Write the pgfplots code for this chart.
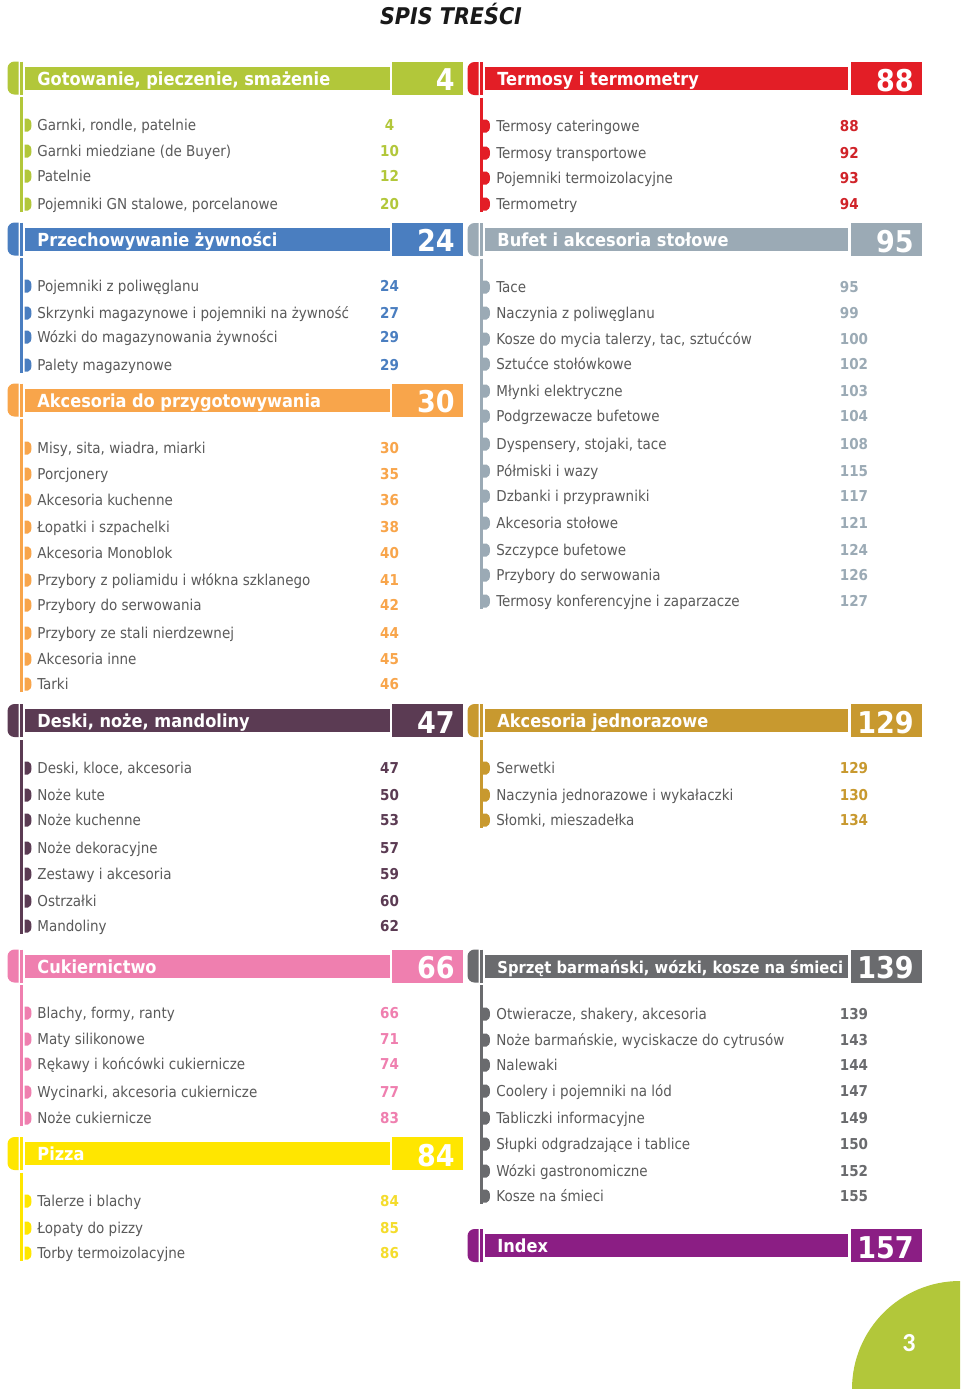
\documentclass[border=0pt]{standalone}
\usepackage{fontspec}
\setmainfont{DejaVu Sans Condensed}
\newfontfamily\calibri{Carlito}
\usepackage{pgfplots}
\pgfplotsset{compat=1.18}

\definecolor{cGreen}{HTML}{B2C73A}
\definecolor{cRed}{HTML}{E31E26}
\definecolor{cRedN}{HTML}{D02329}
\definecolor{cBlue}{HTML}{4A7EC0}
\definecolor{cOrange}{HTML}{F8A54B}
\definecolor{cSlate}{HTML}{9BAAB5}
\definecolor{cPlum}{HTML}{5B3B53}
\definecolor{cGold}{HTML}{C8992F}
\definecolor{cPink}{HTML}{EF7FAF}
\definecolor{cYellow}{HTML}{FFE600}
\definecolor{cYellowN}{HTML}{F4DC2C}
\definecolor{cDark}{HTML}{6A6B6E}
\definecolor{cPurple}{HTML}{8B1E84}
\definecolor{txt}{HTML}{5A5A5A}

\pgfdeclareplotmark{dee}{%
  \pgfpathmoveto{\pgfpoint{-1.75pt}{3.25pt}}%
  \pgfpathlineto{\pgfpoint{0pt}{3.25pt}}%
  \pgfpatharc{90}{-90}{1.75pt and 3.25pt}%
  \pgfpathlineto{\pgfpoint{-1.75pt}{-3.25pt}}%
  \pgfpathclose
  \pgfusepathqfill}

\tikzset{
  itm/.style={anchor=west, inner sep=0pt, text height=5.5pt, text depth=0pt,
    font=\fontsize{7.5}{9}\selectfont, text=txt},
  num/.style={inner sep=0pt, text height=5.5pt, text depth=0pt,
    font=\fontsize{7.5}{9}\selectfont\bfseries},
  htxt/.style={anchor=west, inner sep=0pt, text height=6.5pt, text depth=0pt,
    font=\fontsize{9}{11}\selectfont\bfseries, text=white},
  hnum/.style={anchor=east, inner sep=0pt, text height=11pt, text depth=0pt,
    font=\fontsize{15}{18}\selectfont\bfseries, text=white},
}

% #1 colour, #2 yc, #3 yc-16.5, #4 yc+16.5, #5 yc-11.5, #6 yc+11.5, #7 title, #8 page
\newcommand\hdrL[8]{%
  \fill[#1] (axis cs:18.5,#3) -- (axis cs:18.5,#4) -- ++(-2pt,0)
     arc[start angle=270,end angle=180,radius=3.5pt] -- ++(0,9.5pt)
     arc[start angle=180,end angle=90,radius=3.5pt] -- cycle;
  \addplot[#1, line width=1.25pt] coordinates {(21.25,#3) (21.25,#4)};
  \addplot[fill=#1, draw=none] coordinates {(25,#5) (390,#5) (390,#6) (25,#6)};
  \addplot[fill=#1, draw=none] coordinates {(392,#3) (463,#3) (463,#4) (392,#4)};
  \node[htxt, yshift=-0.4pt] at (axis cs:37,#2) {#7};
  \node[hnum, yshift=-0.75pt] at (axis cs:455,#2) {#8};
}
\newcommand\hdrR[8]{%
  \fill[#1] (axis cs:478.5,#3) -- (axis cs:478.5,#4) -- ++(-2pt,0)
     arc[start angle=270,end angle=180,radius=3.5pt] -- ++(0,9.5pt)
     arc[start angle=180,end angle=90,radius=3.5pt] -- cycle;
  \addplot[#1, line width=1.25pt] coordinates {(481.25,#3) (481.25,#4)};
  \addplot[fill=#1, draw=none] coordinates {(485,#5) (848,#5) (848,#6) (485,#6)};
  \addplot[fill=#1, draw=none] coordinates {(851,#3) (922,#3) (922,#4) (851,#4)};
  \node[htxt, yshift=-0.4pt] at (axis cs:497,#2) {#7};
  \node[hnum, yshift=-0.75pt] at (axis cs:914,#2) {#8};
}
% #1 y, #2 text, #3 page, #4 colour
\newcommand\itL[4]{%
  \node[itm] at (axis cs:37,#1) {#2};
  \node[num, text=#4] at (axis cs:389.5,#1) {#3};
}
\newcommand\itR[4]{%
  \node[itm] at (axis cs:496,#1) {#2};
  \node[num, text=#4, anchor=west] at (axis cs:839.5,#1) {#3};
}

\begin{document}
\begin{tikzpicture}
\begin{axis}[x=0.5pt, y=0.5pt, y dir=reverse,
  xmin=0, xmax=960, ymin=0, ymax=1389,
  hide axis, clip=false]
\addplot[fill=white, draw=none] coordinates {(0,0) (960,0) (960,1389) (0,1389)};

\node[inner sep=0pt, text height=8.5pt, text depth=0pt,
  font=\fontsize{11.5}{14}\selectfont\bfseries\itshape, text=black!90]
  at (axis cs:451,15.5) {SPIS TREŚCI};

% ---------- left column ----------
\hdrL{cGreen}{78}{61.5}{94.5}{66.5}{89.5}{Gotowanie, pieczenie, smażenie}{4}
\addplot[cGreen, line width=1.25pt] coordinates {(21.25,97) (21.25,212)};
\addplot[only marks, mark=dee, cGreen] coordinates {(28,125) (28,151) (28,176) (28,204)};
\itL{125}{Garnki, rondle, patelnie}{4}{cGreen}
\itL{151}{Garnki miedziane (de Buyer)}{10}{cGreen}
\itL{176}{Patelnie}{12}{cGreen}
\itL{204}{Pojemniki GN stalowe, porcelanowe}{20}{cGreen}

\hdrL{cBlue}{239}{222.5}{255.5}{227.5}{250.5}{Przechowywanie żywności}{24}
\addplot[cBlue, line width=1.25pt] coordinates {(21.25,258) (21.25,373)};
\addplot[only marks, mark=dee, cBlue] coordinates {(28,286) (28,313) (28,337) (28,365)};
\itL{286}{Pojemniki z poliwęglanu}{24}{cBlue}
\itL{313}{Skrzynki magazynowe i pojemniki na żywność}{27}{cBlue}
\itL{337}{Wózki do magazynowania żywności}{29}{cBlue}
\itL{365}{Palety magazynowe}{29}{cBlue}

\hdrL{cOrange}{400}{383.5}{416.5}{388.5}{411.5}{Akcesoria do przygotowywania}{30}
\addplot[cOrange, line width=1.25pt] coordinates {(21.25,419) (21.25,692)};
\addplot[only marks, mark=dee, cOrange] coordinates {(28,448) (28,474) (28,500) (28,527) (28,553) (28,580) (28,605) (28,633) (28,659) (28,684)};
\itL{448}{Misy, sita, wiadra, miarki}{30}{cOrange}
\itL{474}{Porcjonery}{35}{cOrange}
\itL{500}{Akcesoria kuchenne}{36}{cOrange}
\itL{527}{Łopatki i szpachelki}{38}{cOrange}
\itL{553}{Akcesoria Monoblok}{40}{cOrange}
\itL{580}{Przybory z poliamidu i włókna szklanego}{41}{cOrange}
\itL{605}{Przybory do serwowania}{42}{cOrange}
\itL{633}{Przybory ze stali nierdzewnej}{44}{cOrange}
\itL{659}{Akcesoria inne}{45}{cOrange}
\itL{684}{Tarki}{46}{cOrange}

\hdrL{cPlum}{720.5}{704}{737}{709}{732}{Deski, noże, mandoliny}{47}
\addplot[cPlum, line width=1.25pt] coordinates {(21.25,740) (21.25,934)};
\addplot[only marks, mark=dee, cPlum] coordinates {(28,768) (28,795) (28,820) (28,848) (28,874) (28,901) (28,926)};
\itL{768}{Deski, kloce, akcesoria}{47}{cPlum}
\itL{795}{Noże kute}{50}{cPlum}
\itL{820}{Noże kuchenne}{53}{cPlum}
\itL{848}{Noże dekoracyjne}{57}{cPlum}
\itL{874}{Zestawy i akcesoria}{59}{cPlum}
\itL{901}{Ostrzałki}{60}{cPlum}
\itL{926}{Mandoliny}{62}{cPlum}

\hdrL{cPink}{966}{949.5}{982.5}{954.5}{977.5}{Cukiernictwo}{66}
\addplot[cPink, line width=1.25pt] coordinates {(21.25,985) (21.25,1126)};
\addplot[only marks, mark=dee, cPink] coordinates {(28,1013) (28,1039) (28,1064) (28,1092) (28,1118)};
\itL{1013}{Blachy, formy, ranty}{66}{cPink}
\itL{1039}{Maty silikonowe}{71}{cPink}
\itL{1064}{Rękawy i końcówki cukiernicze}{74}{cPink}
\itL{1092}{Wycinarki, akcesoria cukiernicze}{77}{cPink}
\itL{1118}{Noże cukiernicze}{83}{cPink}

\hdrL{cYellow}{1153.5}{1137}{1170}{1142}{1165}{Pizza}{84}
\addplot[cYellow, line width=1.25pt] coordinates {(21.25,1172.5) (21.25,1261)};
\addplot[only marks, mark=dee, cYellow] coordinates {(28,1201) (28,1228) (28,1253)};
\itL{1201}{Talerze i blachy}{84}{cYellowN}
\itL{1228}{Łopaty do pizzy}{85}{cYellowN}
\itL{1253}{Torby termoizolacyjne}{86}{cYellowN}

% ---------- right column ----------
\hdrR{cRed}{78.5}{62}{95}{67}{90}{Termosy i termometry}{88}
\addplot[cRed, line width=1.25pt] coordinates {(481.25,97.5) (481.25,212)};
\addplot[only marks, mark=dee, cRed] coordinates {(486.5,126) (486.5,153) (486.5,178) (486.5,204)};
\itR{126}{Termosy cateringowe}{88}{cRedN}
\itR{153}{Termosy transportowe}{92}{cRedN}
\itR{178}{Pojemniki termoizolacyjne}{93}{cRedN}
\itR{204}{Termometry}{94}{cRedN}

\hdrR{cSlate}{239.5}{223}{256}{228}{251}{Bufet i akcesoria stołowe}{95}
\addplot[cSlate, line width=1.25pt] coordinates {(481.25,258.5) (481.25,609)};
\addplot[only marks, mark=dee, cSlate] coordinates {(486.5,287) (486.5,313) (486.5,339) (486.5,364) (486.5,391) (486.5,416) (486.5,444) (486.5,471) (486.5,496) (486.5,523) (486.5,550) (486.5,575) (486.5,601)};
\itR{287}{Tace}{95}{cSlate}
\itR{313}{Naczynia z poliwęglanu}{99}{cSlate}
\itR{339}{Kosze do mycia talerzy, tac, sztućców}{100}{cSlate}
\itR{364}{Sztućce stołówkowe}{102}{cSlate}
\itR{391}{Młynki elektryczne}{103}{cSlate}
\itR{416}{Podgrzewacze bufetowe}{104}{cSlate}
\itR{444}{Dyspensery, stojaki, tace}{108}{cSlate}
\itR{471}{Półmiski i wazy}{115}{cSlate}
\itR{496}{Dzbanki i przyprawniki}{117}{cSlate}
\itR{523}{Akcesoria stołowe}{121}{cSlate}
\itR{550}{Szczypce bufetowe}{124}{cSlate}
\itR{575}{Przybory do serwowania}{126}{cSlate}
\itR{601}{Termosy konferencyjne i zaparzacze}{127}{cSlate}

\hdrR{cGold}{720.5}{704}{737}{709}{732}{Akcesoria jednorazowe}{129}
\addplot[cGold, line width=1.25pt] coordinates {(481.25,740) (481.25,828)};
\addplot[only marks, mark=dee, cGold] coordinates {(486.5,768) (486.5,795) (486.5,820)};
\itR{768}{Serwetki}{129}{cGold}
\itR{795}{Naczynia jednorazowe i wykałaczki}{130}{cGold}
\itR{820}{Słomki, mieszadełka}{134}{cGold}

\hdrR{cDark}{966}{949.5}{982.5}{954.5}{977.5}{\fontsize{8.2}{10}\selectfont Sprzęt barmański, wózki, kosze na śmieci}{139}
\addplot[cDark, line width=1.25pt] coordinates {(481.25,985) (481.25,1204)};
\addplot[only marks, mark=dee, cDark] coordinates {(486.5,1014) (486.5,1040) (486.5,1065) (486.5,1091) (486.5,1118) (486.5,1144) (486.5,1171) (486.5,1196)};
\itR{1014}{Otwieracze, shakery, akcesoria}{139}{cDark}
\itR{1040}{Noże barmańskie, wyciskacze do cytrusów}{143}{cDark}
\itR{1065}{Nalewaki}{144}{cDark}
\itR{1091}{Coolery i pojemniki na lód}{147}{cDark}
\itR{1118}{Tabliczki informacyjne}{149}{cDark}
\itR{1144}{Słupki odgradzające i tablice}{150}{cDark}
\itR{1171}{Wózki gastronomiczne}{152}{cDark}
\itR{1196}{Kosze na śmieci}{155}{cDark}

\hdrR{cPurple}{1245.5}{1229}{1262}{1234}{1257}{Index}{157}

% page corner
\fill[cGreen] (axis cs:960,1389) -- (axis cs:852,1389)
   arc[start angle=180,end angle=90,radius=54pt] -- cycle;
\node[inner sep=0pt, font=\calibri\bfseries\fontsize{13}{15}\selectfont, text=white]
  at (axis cs:909,1343) {3};
\end{axis}
\end{tikzpicture}
\end{document}
